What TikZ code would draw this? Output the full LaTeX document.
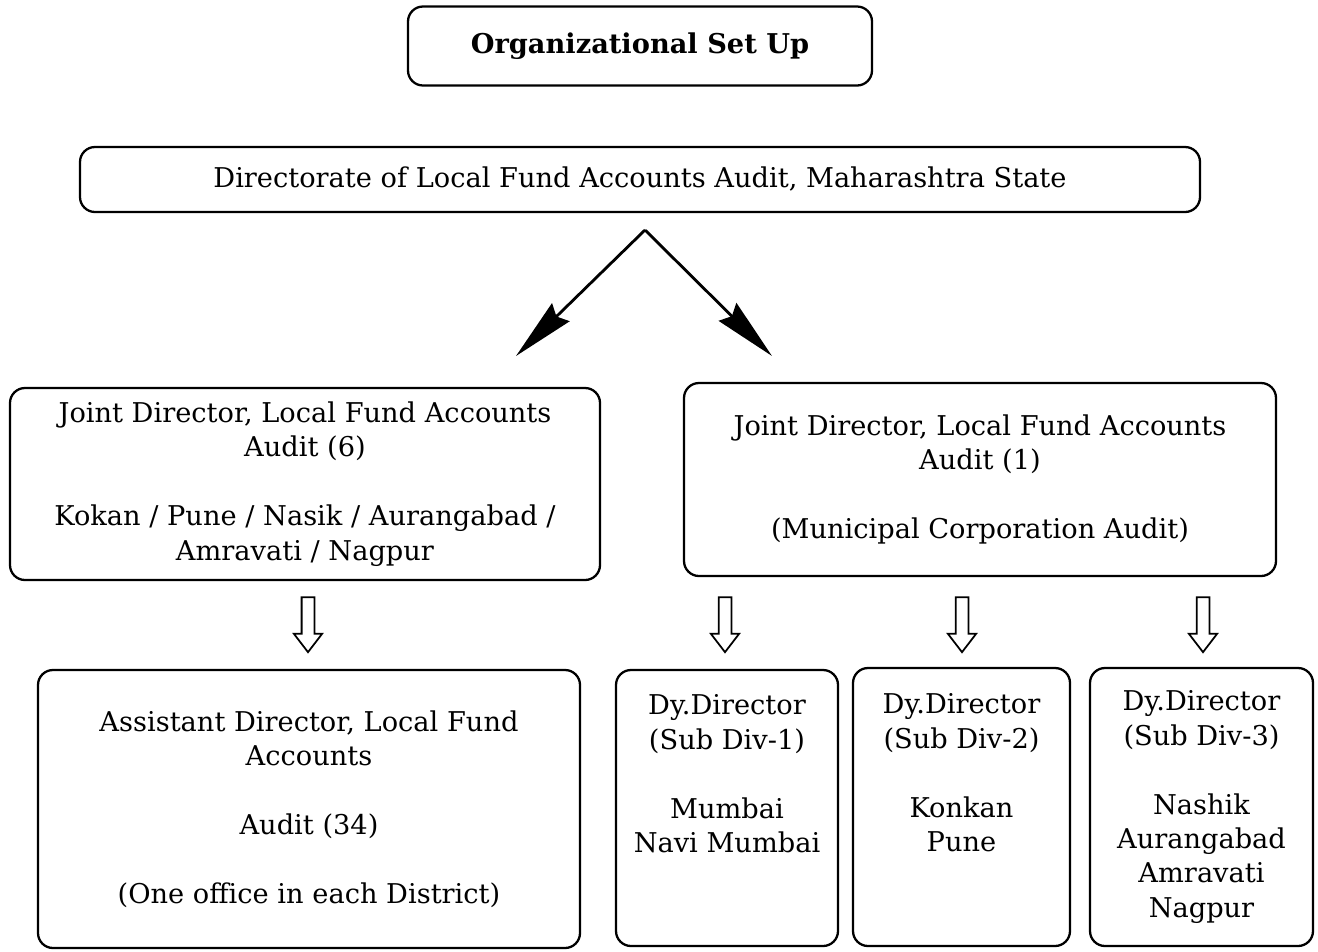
\documentclass[tikz,border=0pt]{standalone}
\usepackage{fontspec}
\setmainfont{DejaVu Serif}
\usetikzlibrary{arrows.meta,shapes.arrows}

\tikzset{
    orgbox/.style={draw, line width=1.3pt, rounded corners=0.3cm, align=center, inner sep=0pt},
    bigarrow/.style={line width=1.6pt, -{Stealth[length=1.25cm,width=0.5cm,inset=0.12cm]}},
    hollow/.style={single arrow, draw, line width=1pt, shape border rotate=270,
        minimum height=1.1cm, minimum width=0.53cm, inner sep=0.11cm,
        single arrow head extend=0.155cm, single arrow tip angle=75}
}

\begin{document}
\begin{tikzpicture}[font=\fontsize{15.5}{19.6}\selectfont]
        \useasboundingbox (0,0) rectangle (26.36,-19.02);
        \node[orgbox, minimum width=9.28cm, minimum height=1.58cm, font=\fontsize{15.5}{19.6}\selectfont\bfseries] (title) at (12.8,-0.92) {Organizational Set Up};
        \node[orgbox, minimum width=22.4cm, minimum height=1.3cm] (dla) at (12.8,-3.59) {Directorate of Local Fund Accounts Audit, Maharashtra State};
        \coordinate (apex) at (12.9,-4.6);
        \coordinate (tipl) at (10.32,-7.12);
        \coordinate (tipr) at (15.44,-7.12);
        \draw[bigarrow] (apex) -- (tipl);
        \draw[bigarrow] (apex) -- (tipr);
        \node[orgbox, minimum width=11.8cm, minimum height=3.84cm] (jdl) at (6.1,-9.68) {Joint Director, Local Fund Accounts\\Audit (6)\\[19.6pt]Kokan / Pune / Nasik / Aurangabad /\\Amravati / Nagpur};
        \node[orgbox, minimum width=11.84cm, minimum height=3.86cm] (jdr) at (19.6,-9.59) {Joint Director, Local Fund Accounts\\Audit (1)\\[19.6pt](Municipal Corporation Audit)};
        \node[orgbox, minimum width=10.84cm, minimum height=5.56cm] (adl) at (6.18,-16.18) {Assistant Director, Local Fund\\Accounts\\[19.6pt]Audit (34)\\[19.6pt](One office in each District)};
        \node[orgbox, minimum width=4.44cm, minimum height=5.52cm] (dy1) at (14.54,-16.16) {Dy.Director\\(Sub Div-1)\\[19.6pt]Mumbai\\Navi Mumbai\\~\\~};
        \node[orgbox, minimum width=4.34cm, minimum height=5.56cm] (dy2) at (19.23,-16.14) {Dy.Director\\(Sub Div-2)\\[19.6pt]Konkan\\Pune\\~\\~};
        \node[orgbox, minimum width=4.46cm, minimum height=5.56cm] (dy3) at (24.03,-16.14) {Dy.Director\\(Sub Div-3)\\[19.6pt]Nashik\\Aurangabad\\Amravati\\Nagpur};
        \node[hollow] (h1) at (6.16,-12.41) {};
        \node[hollow] (h2) at (14.5,-12.41) {};
        \node[hollow] (h3) at (19.24,-12.41) {};
        \node[hollow] (h4) at (24.06,-12.41) {};
\end{tikzpicture}
\end{document}
